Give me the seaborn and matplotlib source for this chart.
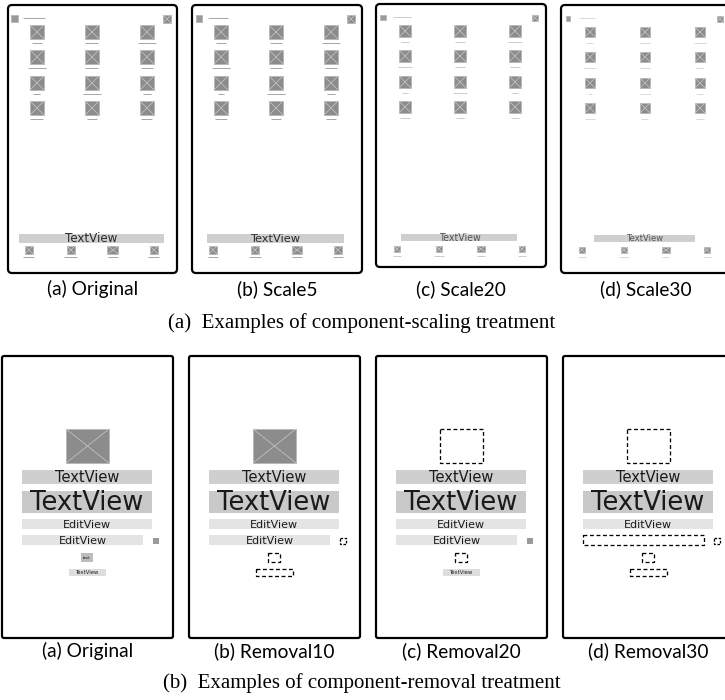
import matplotlib
matplotlib.use("Agg")
import matplotlib.pyplot as plt
import seaborn as sns
from matplotlib.patches import Rectangle, FancyBboxPatch

# ------------------------------------------------------------------ data
scale_labels = ["(a) Original", "(b) Scale5", "(c) Scale20", "(d) Scale30"]
scale_factors = [1.00, 0.95, 0.80, 0.70]
scale_label_colors = ["#a8a8a8", "#a8a8a8", "#cccccc", "#dadada"]
removal_labels = ["(a) Original", "(b) Removal10", "(c) Removal20", "(d) Removal30"]
subcaption_top = "(a)  Examples of component-scaling treatment"
subcaption_bottom = "(b)  Examples of component-removal treatment"

# top (scaling) phone frames: left edges, top, widths, heights (px)
top_frame_x = [8, 192, 376, 561]
top_frame_y = [5, 5, 4, 5]
top_frame_w = [169, 170, 170, 170]
top_frame_h = [268, 268, 263, 268]

# top phone content, px relative to the frame's top-left corner
grid_x = [29, 84, 139]
grid_y = [27, 52, 78, 103]
grid_size = 14
grid_label_w = [[10, 13, 18], [18, 13, 12], [7, 18, 8], [13, 10, 11]]
dock_x = [21, 63, 105, 146]
dock_w = [8, 8, 11, 8]
dock_y = 245
dock_label_w = [11, 13, 10, 11]
header_icon = (7, 13.5, 7)        # cx, cy, size
header_text = (15, 37, 13)        # x start, x end, y
corner_icon = (159, 14, 8)
big_bar = (83.5, 233.5, 145, 9)   # cx, cy, w, h
big_bar_text = "TextView"

# bottom (removal) phone frames
bot_frame_x = [2, 189, 376, 563]
bot_frame_y = 356
bot_frame_w = 171
bot_frame_h = 282

# bottom phone components: name, x, y, w, h (relative to frame), text, fill
comp_names = ["image", "tv1", "tv2", "ev1", "ev2", "square", "button", "small_tv"]
comp_boxes = {
    "image":    (64, 73, 43, 34),
    "tv1":      (20, 114, 130, 14),
    "tv2":      (20, 135, 130, 22),
    "ev1":      (20, 163, 130, 10),
    "ev2":      (20, 179, 121, 10),
    "square":   (151, 182, 6, 6),
    "button":   (79, 197, 12, 9),
    "small_tv": (67, 213, 37, 7),
}
comp_text = {"tv1": "TextView", "tv2": "TextView", "ev1": "EditView",
             "ev2": "EditView", "button": "text", "small_tv": "TextView"}
comp_fontsize = {"tv1": 10.5, "tv2": 18.5, "ev1": 8.0, "ev2": 8.0,
                 "button": 2.8, "small_tv": 3.8}
comp_fill = {"tv1": "#cfcfcf", "tv2": "#c9c9c9", "ev1": "#e4e4e4",
             "ev2": "#e4e4e4", "square": "#9a9a9a", "button": "#bdbdbd",
             "small_tv": "#dedede"}
removed = [[], ["square", "button", "small_tv"], ["image", "button"],
           ["image", "ev2", "square", "button", "small_tv"]]

# ------------------------------------------------------------------ style
sns.set_theme(style="white")
plt.rcParams["font.family"] = ["DejaVu Sans"]

fig = plt.figure(figsize=(7.25, 7.0), dpi=100)
ax = fig.add_axes([0, 0, 1, 1])
ax.set_xlim(0, 725)
ax.set_ylim(700, 0)
ax.axis("off")

PT = 72 / 100.0  # points per pixel


def image_icon(cx, cy, w, h, cross=True, color="#8c8c8c"):
    ax.add_patch(Rectangle((cx - w / 2, cy - h / 2), w, h, facecolor=color,
                           edgecolor="#b5b5b5", lw=0.8 * PT, zorder=3))
    if cross:
        ax.plot([cx - w / 2, cx + w / 2], [cy - h / 2, cy + h / 2],
                color="#c9c9c9", lw=0.7 * PT, zorder=4)
        ax.plot([cx - w / 2, cx + w / 2], [cy + h / 2, cy - h / 2],
                color="#c9c9c9", lw=0.7 * PT, zorder=4)


def label_line(cx, cy, w, color):
    ax.plot([cx - w / 2, cx + w / 2], [cy, cy], color=color,
            lw=1.0 * PT, solid_capstyle="butt", zorder=3)


# ------------------------------------------------------------------ top row
for x0, y0, fw, fh, s, lab, lc in zip(top_frame_x, top_frame_y, top_frame_w,
                                        top_frame_h, scale_factors,
                                        scale_labels, scale_label_colors):
    ax.add_patch(FancyBboxPatch((x0, y0), fw, fh,
                                boxstyle="round,pad=0,rounding_size=4",
                                facecolor="white", edgecolor="black",
                                lw=2.2 * PT, zorder=2))
    # header
    hx, hy, hs = header_icon
    image_icon(x0 + hx, y0 + hy, hs * s, hs * s, cross=False, color="#999999")
    tx0, tx1, ty = header_text
    label_line(x0 + (tx0 + tx1) / 2, y0 + ty, (tx1 - tx0) * s, lc)
    cx, cy, cs = corner_icon
    image_icon(x0 + cx, y0 + cy, cs * s, cs * s)
    # grid
    for r, gy in enumerate(grid_y):
        for c, gx in enumerate(grid_x):
            image_icon(x0 + gx, y0 + gy, grid_size * s, grid_size * s)
            label_line(x0 + gx, y0 + gy + 11, grid_label_w[r][c] * s, lc)
    # big text bar
    bcx, bcy, bw, bh = big_bar
    ax.add_patch(Rectangle((x0 + bcx - bw * s / 2, y0 + bcy - bh * s / 2),
                           bw * s, bh * s, facecolor="#cfcfcf",
                           edgecolor="none", zorder=3))
    ax.text(x0 + bcx, y0 + bcy + 0.4, big_bar_text, fontsize=8.6 * s,
            color="#2a2a2a" if s > 0.9 else "#555555",
            ha="center", va="center", zorder=4)
    # dock icons
    for dx, dw, dlw in zip(dock_x, dock_w, dock_label_w):
        image_icon(x0 + dx, y0 + dock_y, dw * s, 8 * s)
        label_line(x0 + dx, y0 + dock_y + 7, dlw * s, lc)
    ax.text(x0 + fw / 2, 289, lab, fontsize=13.8, family="Lato",
            ha="center", va="center", color="black")

ax.text(362, 323, subcaption_top, fontsize=15, family="Liberation Serif",
        ha="center", va="center", color="black")

# ------------------------------------------------------------------ bottom row
for x0, lab, gone in zip(bot_frame_x, removal_labels, removed):
    ax.add_patch(FancyBboxPatch((x0, bot_frame_y), bot_frame_w, bot_frame_h,
                                boxstyle="round,pad=0,rounding_size=2",
                                facecolor="white", edgecolor="black",
                                lw=2.2 * PT, zorder=2))
    for name in comp_names:
        bx, by, bw, bh = comp_boxes[name]
        X, Y = x0 + bx, bot_frame_y + by
        if name in gone:
            dash = (0, (3, 2)) if bw > 10 else (0, (2, 1.2))
            ax.add_patch(Rectangle((X, Y), bw, bh, facecolor="none",
                                   edgecolor="black", lw=1.3 * PT,
                                   linestyle=dash, zorder=3))
            continue
        if name == "image":
            image_icon(X + bw / 2, Y + bh / 2, bw, bh)
            continue
        ax.add_patch(Rectangle((X, Y), bw, bh, facecolor=comp_fill[name],
                               edgecolor="none", zorder=3))
        if name in comp_text:
            ax.text(X + bw / 2, Y + bh / 2 + 0.5, comp_text[name],
                    fontsize=comp_fontsize[name], color="#1a1a1a",
                    ha="center", va="center", zorder=4)
    ax.text(x0 + bot_frame_w / 2, 651, lab, fontsize=13.8, family="Lato",
            ha="center", va="center", color="black")

ax.text(362, 683, subcaption_bottom, fontsize=15, family="Liberation Serif",
        ha="center", va="center", color="black")

fig.savefig("out.png", dpi=100, facecolor="white")
